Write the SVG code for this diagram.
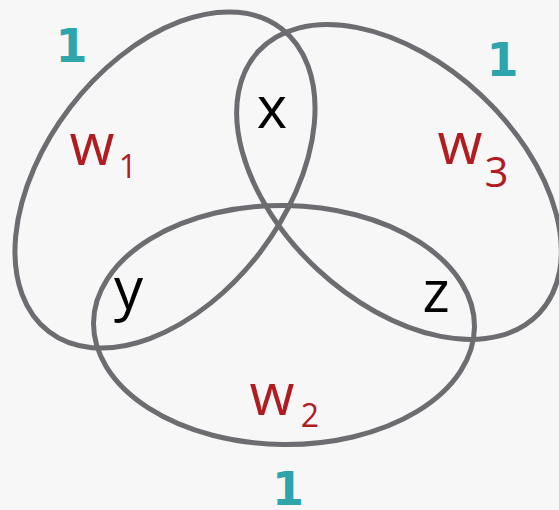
<svg xmlns="http://www.w3.org/2000/svg" width="559" height="510" viewBox="0 0 559 510">
<style>
.set{fill:none;stroke:#6d6d71;stroke-width:5}
.v{font-family:"Open Sans","DejaVu Sans",sans-serif;font-size:58px;fill:#000;text-anchor:middle}
.w{font-family:"Open Sans","DejaVu Sans",sans-serif;font-size:58px;fill:#b01c1f;text-anchor:middle}
.s{font-family:"Open Sans","DejaVu Sans",sans-serif;font-size:32px;fill:#b01c1f;text-anchor:middle}
.one{font-family:"DejaVu Sans",sans-serif;font-weight:bold;font-size:46px;fill:#2ea5ad;text-anchor:middle}
</style>
<rect x="0" y="0" width="559" height="510" fill="#f7f7f7"/>
<g id="connectors"></g>
<g id="set1">
<ellipse class="set" cx="165" cy="180" rx="191" ry="119.5" transform="rotate(-52.5 165 180)"/>
<text class="w" x="92" y="165">w</text>
<text class="s" x="128" y="178">1</text>
<text class="one" x="71.5" y="62">1</text>
</g>
<g id="set3">
<ellipse class="set" cx="399" cy="182" rx="192" ry="119.5" transform="rotate(43 399 182)"/>
<text class="w" x="460" y="164">w</text>
<text class="s" x="496.5" y="187" style="font-size:42px">3</text>
<text class="one" x="502.5" y="76">1</text>
</g>
<g id="set2">
<ellipse class="set" cx="284" cy="325" rx="190.5" ry="119.5" transform="rotate(0.7 284 325)"/>
<text class="w" x="272" y="415">w</text>
<text class="s" x="310" y="427">2</text>
<text class="one" x="288" y="505">1</text>
</g>
<g id="x"><text class="v" x="272" y="128">x</text></g>
<g id="y"><text class="v" x="128.5" y="309">y</text></g>
<g id="z"><text class="v" x="436" y="312">z</text></g>
</svg>
